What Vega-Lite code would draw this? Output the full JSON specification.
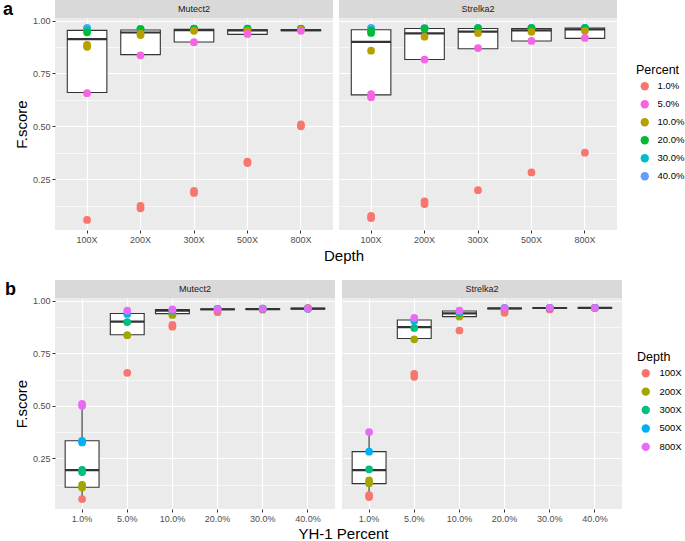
{
  "$schema": "https://vega.github.io/schema/vega-lite/v6.json",
  "background": "white",
  "padding": {"left": 2, "top": 0, "right": 2, "bottom": 0},
  "config": {
    "font": "Liberation Sans",
    "view": {"stroke": null},
    "axis": {"domain": false, "tickColor": "#333333", "tickSize": 3, "labelColor": "#4D4D4D", "labelFontSize": 9, "gridColor": "#FFFFFF", "labelPadding": 2, "titleFontWeight": "normal", "titleFontSize": 15, "titleColor": "#000000"},
    "legend": {"titleFontWeight": "normal", "titleFontSize": 12.5, "titleColor": "#000000", "labelFontSize": 9.5, "labelColor": "#000000", "symbolType": "circle", "symbolSize": 70, "symbolStrokeWidth": 0, "symbolOpacity": 1, "rowPadding": 7, "symbolOffset": 4, "labelOffset": 8}
  },
  "datasets": {
    "pts": [
      {"caller": "Mutect2", "depth": "100X", "pct": "1.0%", "f": 0.057},
      {"caller": "Mutect2", "depth": "100X", "pct": "5.0%", "f": 0.657},
      {"caller": "Mutect2", "depth": "100X", "pct": "10.0%", "f": 0.876},
      {"caller": "Mutect2", "depth": "100X", "pct": "10.0%", "f": 0.885},
      {"caller": "Mutect2", "depth": "100X", "pct": "40.0%", "f": 0.966},
      {"caller": "Mutect2", "depth": "100X", "pct": "30.0%", "f": 0.957},
      {"caller": "Mutect2", "depth": "100X", "pct": "20.0%", "f": 0.945},
      {"caller": "Mutect2", "depth": "200X", "pct": "1.0%", "f": 0.112},
      {"caller": "Mutect2", "depth": "200X", "pct": "1.0%", "f": 0.124},
      {"caller": "Mutect2", "depth": "200X", "pct": "5.0%", "f": 0.836},
      {"caller": "Mutect2", "depth": "200X", "pct": "40.0%", "f": 0.961},
      {"caller": "Mutect2", "depth": "200X", "pct": "30.0%", "f": 0.960},
      {"caller": "Mutect2", "depth": "200X", "pct": "20.0%", "f": 0.959},
      {"caller": "Mutect2", "depth": "200X", "pct": "10.0%", "f": 0.932},
      {"caller": "Mutect2", "depth": "200X", "pct": "10.0%", "f": 0.938},
      {"caller": "Mutect2", "depth": "300X", "pct": "1.0%", "f": 0.185},
      {"caller": "Mutect2", "depth": "300X", "pct": "1.0%", "f": 0.195},
      {"caller": "Mutect2", "depth": "300X", "pct": "5.0%", "f": 0.898},
      {"caller": "Mutect2", "depth": "300X", "pct": "40.0%", "f": 0.962},
      {"caller": "Mutect2", "depth": "300X", "pct": "30.0%", "f": 0.962},
      {"caller": "Mutect2", "depth": "300X", "pct": "20.0%", "f": 0.961},
      {"caller": "Mutect2", "depth": "300X", "pct": "10.0%", "f": 0.952},
      {"caller": "Mutect2", "depth": "500X", "pct": "1.0%", "f": 0.326},
      {"caller": "Mutect2", "depth": "500X", "pct": "1.0%", "f": 0.333},
      {"caller": "Mutect2", "depth": "500X", "pct": "40.0%", "f": 0.962},
      {"caller": "Mutect2", "depth": "500X", "pct": "30.0%", "f": 0.962},
      {"caller": "Mutect2", "depth": "500X", "pct": "20.0%", "f": 0.961},
      {"caller": "Mutect2", "depth": "500X", "pct": "10.0%", "f": 0.953},
      {"caller": "Mutect2", "depth": "500X", "pct": "5.0%", "f": 0.937},
      {"caller": "Mutect2", "depth": "800X", "pct": "1.0%", "f": 0.500},
      {"caller": "Mutect2", "depth": "800X", "pct": "1.0%", "f": 0.509},
      {"caller": "Mutect2", "depth": "800X", "pct": "40.0%", "f": 0.962},
      {"caller": "Mutect2", "depth": "800X", "pct": "30.0%", "f": 0.961},
      {"caller": "Mutect2", "depth": "800X", "pct": "20.0%", "f": 0.960},
      {"caller": "Mutect2", "depth": "800X", "pct": "10.0%", "f": 0.958},
      {"caller": "Mutect2", "depth": "800X", "pct": "5.0%", "f": 0.952},
      {"caller": "Strelka2", "depth": "100X", "pct": "1.0%", "f": 0.066},
      {"caller": "Strelka2", "depth": "100X", "pct": "1.0%", "f": 0.076},
      {"caller": "Strelka2", "depth": "100X", "pct": "5.0%", "f": 0.638},
      {"caller": "Strelka2", "depth": "100X", "pct": "5.0%", "f": 0.652},
      {"caller": "Strelka2", "depth": "100X", "pct": "10.0%", "f": 0.858},
      {"caller": "Strelka2", "depth": "100X", "pct": "40.0%", "f": 0.966},
      {"caller": "Strelka2", "depth": "100X", "pct": "30.0%", "f": 0.958},
      {"caller": "Strelka2", "depth": "100X", "pct": "20.0%", "f": 0.942},
      {"caller": "Strelka2", "depth": "100X", "pct": "20.0%", "f": 0.952},
      {"caller": "Strelka2", "depth": "200X", "pct": "1.0%", "f": 0.132},
      {"caller": "Strelka2", "depth": "200X", "pct": "1.0%", "f": 0.145},
      {"caller": "Strelka2", "depth": "200X", "pct": "5.0%", "f": 0.816},
      {"caller": "Strelka2", "depth": "200X", "pct": "40.0%", "f": 0.965},
      {"caller": "Strelka2", "depth": "200X", "pct": "30.0%", "f": 0.964},
      {"caller": "Strelka2", "depth": "200X", "pct": "20.0%", "f": 0.962},
      {"caller": "Strelka2", "depth": "200X", "pct": "10.0%", "f": 0.924},
      {"caller": "Strelka2", "depth": "300X", "pct": "1.0%", "f": 0.198},
      {"caller": "Strelka2", "depth": "300X", "pct": "5.0%", "f": 0.870},
      {"caller": "Strelka2", "depth": "300X", "pct": "40.0%", "f": 0.966},
      {"caller": "Strelka2", "depth": "300X", "pct": "30.0%", "f": 0.965},
      {"caller": "Strelka2", "depth": "300X", "pct": "20.0%", "f": 0.964},
      {"caller": "Strelka2", "depth": "300X", "pct": "10.0%", "f": 0.941},
      {"caller": "Strelka2", "depth": "500X", "pct": "1.0%", "f": 0.282},
      {"caller": "Strelka2", "depth": "500X", "pct": "40.0%", "f": 0.966},
      {"caller": "Strelka2", "depth": "500X", "pct": "30.0%", "f": 0.966},
      {"caller": "Strelka2", "depth": "500X", "pct": "20.0%", "f": 0.964},
      {"caller": "Strelka2", "depth": "500X", "pct": "10.0%", "f": 0.947},
      {"caller": "Strelka2", "depth": "500X", "pct": "5.0%", "f": 0.904},
      {"caller": "Strelka2", "depth": "800X", "pct": "1.0%", "f": 0.375},
      {"caller": "Strelka2", "depth": "800X", "pct": "40.0%", "f": 0.966},
      {"caller": "Strelka2", "depth": "800X", "pct": "30.0%", "f": 0.966},
      {"caller": "Strelka2", "depth": "800X", "pct": "20.0%", "f": 0.964},
      {"caller": "Strelka2", "depth": "800X", "pct": "10.0%", "f": 0.952},
      {"caller": "Strelka2", "depth": "800X", "pct": "5.0%", "f": 0.918}
    ],
    "boxA": [
      {"caller": "Mutect2", "depth": "100X", "lo": 0.657, "q1": 0.660, "med": 0.913, "q3": 0.954, "hi": 0.965},
      {"caller": "Mutect2", "depth": "200X", "lo": 0.836, "q1": 0.839, "med": 0.944, "q3": 0.956, "hi": 0.961},
      {"caller": "Mutect2", "depth": "300X", "lo": 0.898, "q1": 0.899, "med": 0.955, "q3": 0.959, "hi": 0.962},
      {"caller": "Mutect2", "depth": "500X", "lo": 0.935, "q1": 0.935, "med": 0.954, "q3": 0.957, "hi": 0.962},
      {"caller": "Mutect2", "depth": "800X", "lo": 0.950, "q1": 0.952, "med": 0.955, "q3": 0.958, "hi": 0.962},
      {"caller": "Strelka2", "depth": "100X", "lo": 0.644, "q1": 0.649, "med": 0.900, "q3": 0.957, "hi": 0.966},
      {"caller": "Strelka2", "depth": "200X", "lo": 0.816, "q1": 0.816, "med": 0.940, "q3": 0.963, "hi": 0.965},
      {"caller": "Strelka2", "depth": "300X", "lo": 0.867, "q1": 0.867, "med": 0.948, "q3": 0.963, "hi": 0.966},
      {"caller": "Strelka2", "depth": "500X", "lo": 0.902, "q1": 0.904, "med": 0.954, "q3": 0.963, "hi": 0.966},
      {"caller": "Strelka2", "depth": "800X", "lo": 0.916, "q1": 0.916, "med": 0.959, "q3": 0.965, "hi": 0.966}
    ],
    "boxB": [
      {"caller": "Mutect2", "pct": "1.0%", "lo": 0.055, "q1": 0.113, "med": 0.194, "q3": 0.334, "hi": 0.506},
      {"caller": "Mutect2", "pct": "5.0%", "lo": 0.836, "q1": 0.838, "med": 0.900, "q3": 0.939, "hi": 0.952},
      {"caller": "Mutect2", "pct": "10.0%", "lo": 0.932, "q1": 0.938, "med": 0.952, "q3": 0.958, "hi": 0.958},
      {"caller": "Mutect2", "pct": "20.0%", "lo": 0.957, "q1": 0.957, "med": 0.959, "q3": 0.960, "hi": 0.961},
      {"caller": "Mutect2", "pct": "30.0%", "lo": 0.957, "q1": 0.958, "med": 0.960, "q3": 0.961, "hi": 0.962},
      {"caller": "Mutect2", "pct": "40.0%", "lo": 0.961, "q1": 0.961, "med": 0.962, "q3": 0.963, "hi": 0.963},
      {"caller": "Strelka2", "pct": "1.0%", "lo": 0.070, "q1": 0.130, "med": 0.194, "q3": 0.282, "hi": 0.376},
      {"caller": "Strelka2", "pct": "5.0%", "lo": 0.816, "q1": 0.820, "med": 0.874, "q3": 0.908, "hi": 0.920},
      {"caller": "Strelka2", "pct": "10.0%", "lo": 0.924, "q1": 0.924, "med": 0.939, "q3": 0.951, "hi": 0.954},
      {"caller": "Strelka2", "pct": "20.0%", "lo": 0.962, "q1": 0.962, "med": 0.963, "q3": 0.964, "hi": 0.964},
      {"caller": "Strelka2", "pct": "30.0%", "lo": 0.964, "q1": 0.964, "med": 0.965, "q3": 0.966, "hi": 0.966},
      {"caller": "Strelka2", "pct": "40.0%", "lo": 0.965, "q1": 0.965, "med": 0.966, "q3": 0.966, "hi": 0.966}
    ]
  },
  "resolve": {"scale": {"color": "independent"}, "legend": {"color": "independent"}},
  "spacing": 16,
  "vconcat": [
    {
      "spacing": 6,
      "title": {"text": "Depth", "orient": "bottom", "anchor": "middle", "fontSize": 15, "fontWeight": "normal", "color": "#000000", "offset": 5},
      "hconcat": [
        {
          "spacing": 0,
          "bounds": "flush",
          "vconcat": [
            {
              "width": 278, "height": 18,
              "view": {"fill": "#D9D9D9", "stroke": null},
              "title": {"text": "a", "orient": "left", "angle": 0, "align": "left", "baseline": "middle", "fontSize": 18, "fontWeight": "bold", "color": "#000000", "offset": 42, "dy": 1},
              "data": {"values": [{"lab": "Mutect2"}]},
              "mark": {"type": "text", "fontSize": 9, "color": "#1A1A1A"},
              "encoding": {"text": {"field": "lab"}}
            },
            {
              "width": 278, "height": 212,
              "view": {"fill": "#EBEBEB", "stroke": null},
              "resolve": {"axis": {"y": "independent"}},
              "layer": [
                {
                  "data": {"name": "boxA"},
                  "transform": [{"filter": "datum.caller === 'Mutect2'"}],
                  "mark": {"type": "rule", "color": "#333333", "strokeWidth": 1.1},
                  "encoding": {
                    "x": {"field": "depth", "type": "nominal", "sort": ["100X", "200X", "300X", "500X", "800X"], "scale": {"paddingInner": 0, "paddingOuter": 0.1}, "title": null, "axis": {"labelAngle": 0, "bandPosition": 0.5, "grid": true, "gridWidth": 1.2}},
                    "y": {"field": "lo", "type": "quantitative", "scale": {"domain": [0.0095, 1.0125], "nice": false, "zero": false}, "axis": {"orient": "left", "values": [0.125, 0.375, 0.625, 0.875], "grid": true, "gridWidth": 0.6, "labels": false, "ticks": false, "title": null}},
                    "y2": {"field": "hi"}
                  }
                },
                {
                  "data": {"name": "boxA"},
                  "transform": [{"filter": "datum.caller === 'Mutect2'"}],
                  "mark": {"type": "bar", "fill": "white", "stroke": "#333333", "strokeWidth": 1.1, "width": {"band": 0.74}},
                  "encoding": {
                    "x": {"field": "depth", "type": "nominal", "sort": ["100X", "200X", "300X", "500X", "800X"]},
                    "y": {"field": "q1", "type": "quantitative", "axis": {"orient": "left", "values": [0.25, 0.5, 0.75, 1.0], "format": ".2f", "grid": true, "gridWidth": 1.2, "title": "F.score", "titlePadding": 3}},
                    "y2": {"field": "q3"}
                  }
                },
                {
                  "data": {"name": "boxA"},
                  "transform": [{"filter": "datum.caller === 'Mutect2'"}],
                  "mark": {"type": "tick", "color": "#333333", "thickness": 2.2, "size": 40, "opacity": 1},
                  "encoding": {
                    "x": {"field": "depth", "type": "nominal", "sort": ["100X", "200X", "300X", "500X", "800X"]},
                    "y": {"field": "med", "type": "quantitative", "axis": null}
                  }
                },
                {
                  "data": {"name": "pts"},
                  "transform": [{"filter": "datum.caller === 'Mutect2'"}],
                  "mark": {"type": "circle", "size": 60, "opacity": 1},
                  "encoding": {
                    "x": {"field": "depth", "type": "nominal", "sort": ["100X", "200X", "300X", "500X", "800X"]},
                    "y": {"field": "f", "type": "quantitative", "axis": null},
                    "color": {"field": "pct", "type": "nominal", "scale": {"domain": ["1.0%", "5.0%", "10.0%", "20.0%", "30.0%", "40.0%"], "range": ["#F8766D", "#F564E3", "#B79F00", "#00BA38", "#00BFC4", "#619CFF"]}, "legend": {"title": "Percent", "orient": "none", "legendX": 581, "legendY": 64}}
                  }
                }
              ]
            }
          ]
        },
        {
          "spacing": 0,
          "bounds": "flush",
          "vconcat": [
            {
              "width": 278, "height": 18,
              "view": {"fill": "#D9D9D9", "stroke": null},
              "data": {"values": [{"lab": "Strelka2"}]},
              "mark": {"type": "text", "fontSize": 9, "color": "#1A1A1A"},
              "encoding": {"text": {"field": "lab"}}
            },
            {
              "width": 278, "height": 212,
              "view": {"fill": "#EBEBEB", "stroke": null},
              "resolve": {"axis": {"y": "independent"}},
              "layer": [
                {
                  "data": {"name": "boxA"},
                  "transform": [{"filter": "datum.caller === 'Strelka2'"}],
                  "mark": {"type": "rule", "color": "#333333", "strokeWidth": 1.1},
                  "encoding": {
                    "x": {"field": "depth", "type": "nominal", "sort": ["100X", "200X", "300X", "500X", "800X"], "scale": {"paddingInner": 0, "paddingOuter": 0.1}, "title": null, "axis": {"labelAngle": 0, "bandPosition": 0.5, "grid": true, "gridWidth": 1.2}},
                    "y": {"field": "lo", "type": "quantitative", "scale": {"domain": [0.0095, 1.0125], "nice": false, "zero": false}, "axis": {"orient": "left", "values": [0.125, 0.375, 0.625, 0.875], "grid": true, "gridWidth": 0.6, "labels": false, "ticks": false, "title": null}},
                    "y2": {"field": "hi"}
                  }
                },
                {
                  "data": {"name": "boxA"},
                  "transform": [{"filter": "datum.caller === 'Strelka2'"}],
                  "mark": {"type": "bar", "fill": "white", "stroke": "#333333", "strokeWidth": 1.1, "width": {"band": 0.74}},
                  "encoding": {
                    "x": {"field": "depth", "type": "nominal", "sort": ["100X", "200X", "300X", "500X", "800X"]},
                    "y": {"field": "q1", "type": "quantitative", "axis": {"orient": "left", "values": [0.25, 0.5, 0.75, 1.0], "grid": true, "gridWidth": 1.2, "labels": false, "ticks": false, "title": null}},
                    "y2": {"field": "q3"}
                  }
                },
                {
                  "data": {"name": "boxA"},
                  "transform": [{"filter": "datum.caller === 'Strelka2'"}],
                  "mark": {"type": "tick", "color": "#333333", "thickness": 2.2, "size": 40, "opacity": 1},
                  "encoding": {
                    "x": {"field": "depth", "type": "nominal", "sort": ["100X", "200X", "300X", "500X", "800X"]},
                    "y": {"field": "med", "type": "quantitative", "axis": null}
                  }
                },
                {
                  "data": {"name": "pts"},
                  "transform": [{"filter": "datum.caller === 'Strelka2'"}],
                  "mark": {"type": "circle", "size": 60, "opacity": 1},
                  "encoding": {
                    "x": {"field": "depth", "type": "nominal", "sort": ["100X", "200X", "300X", "500X", "800X"]},
                    "y": {"field": "f", "type": "quantitative", "axis": null},
                    "color": {"field": "pct", "type": "nominal", "scale": {"domain": ["1.0%", "5.0%", "10.0%", "20.0%", "30.0%", "40.0%"], "range": ["#F8766D", "#F564E3", "#B79F00", "#00BA38", "#00BFC4", "#619CFF"]}, "legend": {"title": "Percent", "orient": "none", "legendX": 581, "legendY": 64}}
                  }
                }
              ]
            }
          ]
        }
      ]
    },
    {
      "spacing": 7,
      "title": {"text": "YH-1 Percent", "orient": "bottom", "anchor": "middle", "fontSize": 15, "fontWeight": "normal", "color": "#000000", "offset": 4},
      "hconcat": [
        {
          "spacing": 0,
          "bounds": "flush",
          "vconcat": [
            {
              "width": 280, "height": 18,
              "view": {"fill": "#D9D9D9", "stroke": null},
              "title": {"text": "b", "orient": "left", "angle": 0, "align": "left", "baseline": "middle", "fontSize": 18, "fontWeight": "bold", "color": "#000000", "offset": 39, "dy": 1},
              "data": {"values": [{"lab": "Mutect2"}]},
              "mark": {"type": "text", "fontSize": 9, "color": "#1A1A1A"},
              "encoding": {"text": {"field": "lab"}}
            },
            {
              "width": 280, "height": 211,
              "view": {"fill": "#EBEBEB", "stroke": null},
              "resolve": {"axis": {"y": "independent"}},
              "layer": [
                {
                  "data": {"name": "boxB"},
                  "transform": [{"filter": "datum.caller === 'Mutect2'"}],
                  "mark": {"type": "rule", "color": "#333333", "strokeWidth": 1.1},
                  "encoding": {
                    "x": {"field": "pct", "type": "nominal", "sort": ["1.0%", "5.0%", "10.0%", "20.0%", "30.0%", "40.0%"], "scale": {"paddingInner": 0, "paddingOuter": 0.1}, "title": null, "axis": {"labelAngle": 0, "bandPosition": 0.5, "grid": true, "gridWidth": 1.2}},
                    "y": {"field": "lo", "type": "quantitative", "scale": {"domain": [0.0095, 1.0125], "nice": false, "zero": false}, "axis": {"orient": "left", "values": [0.125, 0.375, 0.625, 0.875], "grid": true, "gridWidth": 0.6, "labels": false, "ticks": false, "title": null}},
                    "y2": {"field": "hi"}
                  }
                },
                {
                  "data": {"name": "boxB"},
                  "transform": [{"filter": "datum.caller === 'Mutect2'"}],
                  "mark": {"type": "bar", "fill": "white", "stroke": "#333333", "strokeWidth": 1.1, "width": {"band": 0.75}},
                  "encoding": {
                    "x": {"field": "pct", "type": "nominal", "sort": ["1.0%", "5.0%", "10.0%", "20.0%", "30.0%", "40.0%"]},
                    "y": {"field": "q1", "type": "quantitative", "axis": {"orient": "left", "values": [0.25, 0.5, 0.75, 1.0], "format": ".2f", "grid": true, "gridWidth": 1.2, "title": "F.score", "titlePadding": 3}},
                    "y2": {"field": "q3"}
                  }
                },
                {
                  "data": {"name": "boxB"},
                  "transform": [{"filter": "datum.caller === 'Mutect2'"}],
                  "mark": {"type": "tick", "color": "#333333", "thickness": 2.2, "size": 34, "opacity": 1},
                  "encoding": {
                    "x": {"field": "pct", "type": "nominal", "sort": ["1.0%", "5.0%", "10.0%", "20.0%", "30.0%", "40.0%"]},
                    "y": {"field": "med", "type": "quantitative", "axis": null}
                  }
                },
                {
                  "data": {"name": "pts"},
                  "transform": [{"filter": "datum.caller === 'Mutect2'"}],
                  "mark": {"type": "circle", "size": 60, "opacity": 1},
                  "encoding": {
                    "x": {"field": "pct", "type": "nominal", "sort": ["1.0%", "5.0%", "10.0%", "20.0%", "30.0%", "40.0%"]},
                    "y": {"field": "f", "type": "quantitative", "axis": null},
                    "color": {"field": "depth", "type": "nominal", "scale": {"domain": ["100X", "200X", "300X", "500X", "800X"], "range": ["#F8766D", "#A3A500", "#00BF7D", "#00B0F6", "#E76BF3"]}, "legend": {"title": "Depth", "orient": "none", "legendX": 582, "legendY": 71, "rowPadding": 7.4, "labelOffset": 9}}
                  }
                }
              ]
            }
          ]
        },
        {
          "spacing": 0,
          "bounds": "flush",
          "vconcat": [
            {
              "width": 280, "height": 18,
              "view": {"fill": "#D9D9D9", "stroke": null},
              "data": {"values": [{"lab": "Strelka2"}]},
              "mark": {"type": "text", "fontSize": 9, "color": "#1A1A1A"},
              "encoding": {"text": {"field": "lab"}}
            },
            {
              "width": 280, "height": 211,
              "view": {"fill": "#EBEBEB", "stroke": null},
              "resolve": {"axis": {"y": "independent"}},
              "layer": [
                {
                  "data": {"name": "boxB"},
                  "transform": [{"filter": "datum.caller === 'Strelka2'"}],
                  "mark": {"type": "rule", "color": "#333333", "strokeWidth": 1.1},
                  "encoding": {
                    "x": {"field": "pct", "type": "nominal", "sort": ["1.0%", "5.0%", "10.0%", "20.0%", "30.0%", "40.0%"], "scale": {"paddingInner": 0, "paddingOuter": 0.1}, "title": null, "axis": {"labelAngle": 0, "bandPosition": 0.5, "grid": true, "gridWidth": 1.2}},
                    "y": {"field": "lo", "type": "quantitative", "scale": {"domain": [0.0095, 1.0125], "nice": false, "zero": false}, "axis": {"orient": "left", "values": [0.125, 0.375, 0.625, 0.875], "grid": true, "gridWidth": 0.6, "labels": false, "ticks": false, "title": null}},
                    "y2": {"field": "hi"}
                  }
                },
                {
                  "data": {"name": "boxB"},
                  "transform": [{"filter": "datum.caller === 'Strelka2'"}],
                  "mark": {"type": "bar", "fill": "white", "stroke": "#333333", "strokeWidth": 1.1, "width": {"band": 0.75}},
                  "encoding": {
                    "x": {"field": "pct", "type": "nominal", "sort": ["1.0%", "5.0%", "10.0%", "20.0%", "30.0%", "40.0%"]},
                    "y": {"field": "q1", "type": "quantitative", "axis": {"orient": "left", "values": [0.25, 0.5, 0.75, 1.0], "grid": true, "gridWidth": 1.2, "labels": false, "ticks": false, "title": null}},
                    "y2": {"field": "q3"}
                  }
                },
                {
                  "data": {"name": "boxB"},
                  "transform": [{"filter": "datum.caller === 'Strelka2'"}],
                  "mark": {"type": "tick", "color": "#333333", "thickness": 2.2, "size": 34, "opacity": 1},
                  "encoding": {
                    "x": {"field": "pct", "type": "nominal", "sort": ["1.0%", "5.0%", "10.0%", "20.0%", "30.0%", "40.0%"]},
                    "y": {"field": "med", "type": "quantitative", "axis": null}
                  }
                },
                {
                  "data": {"name": "pts"},
                  "transform": [{"filter": "datum.caller === 'Strelka2'"}],
                  "mark": {"type": "circle", "size": 60, "opacity": 1},
                  "encoding": {
                    "x": {"field": "pct", "type": "nominal", "sort": ["1.0%", "5.0%", "10.0%", "20.0%", "30.0%", "40.0%"]},
                    "y": {"field": "f", "type": "quantitative", "axis": null},
                    "color": {"field": "depth", "type": "nominal", "scale": {"domain": ["100X", "200X", "300X", "500X", "800X"], "range": ["#F8766D", "#A3A500", "#00BF7D", "#00B0F6", "#E76BF3"]}, "legend": {"title": "Depth", "orient": "none", "legendX": 582, "legendY": 71, "rowPadding": 7.4, "labelOffset": 9}}
                  }
                }
              ]
            }
          ]
        }
      ]
    }
  ]
}
